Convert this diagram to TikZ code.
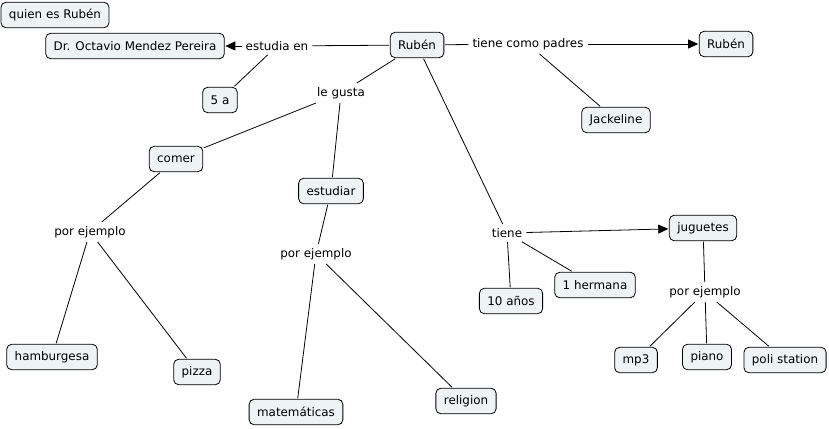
\documentclass[tikz,border=0pt]{standalone}
\usepackage{fontspec}
\setmainfont{DejaVu Sans}
\usetikzlibrary{arrows.meta}
\definecolor{conceptfill}{HTML}{EEF3F6}
\begin{document}
\begin{tikzpicture}[
    x=1pt, y=-1pt,
    font=\fontsize{11.9}{13}\selectfont,
    concept/.style={draw, line width=0.8pt, rounded corners=5pt, fill=conceptfill, minimum height=25.5pt, inner xsep=8pt, outer sep=1pt},
    linkword/.style={inner sep=4pt},
    link/.style={line width=0.8pt},
    arrow/.style={link, -{Triangle[length=10pt,width=9pt]}}
]
\useasboundingbox (0,0) rectangle (829,428);

% concepts
\node[concept] (quien) at (55,15) {quien es Rubén};
\node[concept] (ruben) at (417,45) {Rubén};
\node[concept] (octavio) at (135,46) {Dr. Octavio Mendez Pereira};
\node[concept] (cinco) at (220,100) {5 a};
\node[concept] (padre) at (726,44) {Rubén};
\node[concept] (jackeline) at (616,120) {Jackeline};
\node[concept] (comer) at (176,159) {comer};
\node[concept] (estudiar) at (331,191) {estudiar};
\node[concept] (juguetes) at (703,228) {juguetes};
\node[concept] (hermana) at (595,285) {1 hermana};
\node[concept] (anos) at (511,301) {10 años};
\node[concept] (mp) at (636,360) {mp3};
\node[concept] (piano) at (707,357) {piano};
\node[concept] (poli) at (785,360) {poli station};
\node[concept] (hamburgesa) at (52,357) {hamburgesa};
\node[concept] (pizza) at (197,372) {pizza};
\node[concept] (mate) at (296,412) {matemáticas};
\node[concept] (religion) at (466,401) {religion};

% linking words
\node[linkword] (estudia) at (277,46) {estudia en};
\node[linkword] (padres) at (528,44) {tiene como padres};
\node[linkword] (gusta) at (341,93) {le gusta};
\node[linkword] (tiene) at (507,233) {tiene};
\node[linkword] (ejemploA) at (90,232) {por ejemplo};
\node[linkword] (ejemploB) at (316,254) {por ejemplo};
\node[linkword] (ejemploC) at (705,292) {por ejemplo};

% connections
\draw[link] (ruben) -- (estudia);
\draw[arrow] (estudia) -- (octavio);
\draw[link] (estudia) -- (cinco);
\draw[link] (ruben) -- (padres);
\draw[arrow] (padres) -- (padre);
\draw[link] (padres) -- (jackeline);
\draw[link] (ruben) -- (gusta);
\draw[link] (gusta) -- (comer);
\draw[link] (gusta) -- (estudiar);
\draw[link] (ruben) -- (tiene);
\draw[arrow] (tiene) -- (juguetes);
\draw[link] (tiene) -- (anos);
\draw[link] (tiene) -- (hermana);
\draw[link] (comer) -- (ejemploA);
\draw[link] (ejemploA) -- (hamburgesa);
\draw[link] (ejemploA) -- (pizza);
\draw[link] (estudiar) -- (ejemploB);
\draw[link] (ejemploB) -- (mate);
\draw[link] (ejemploB) -- (religion);
\draw[link] (juguetes) -- (ejemploC);
\draw[link] (ejemploC) -- (mp);
\draw[link] (ejemploC) -- (piano);
\draw[link] (ejemploC) -- (poli);
\end{tikzpicture}
\end{document}
